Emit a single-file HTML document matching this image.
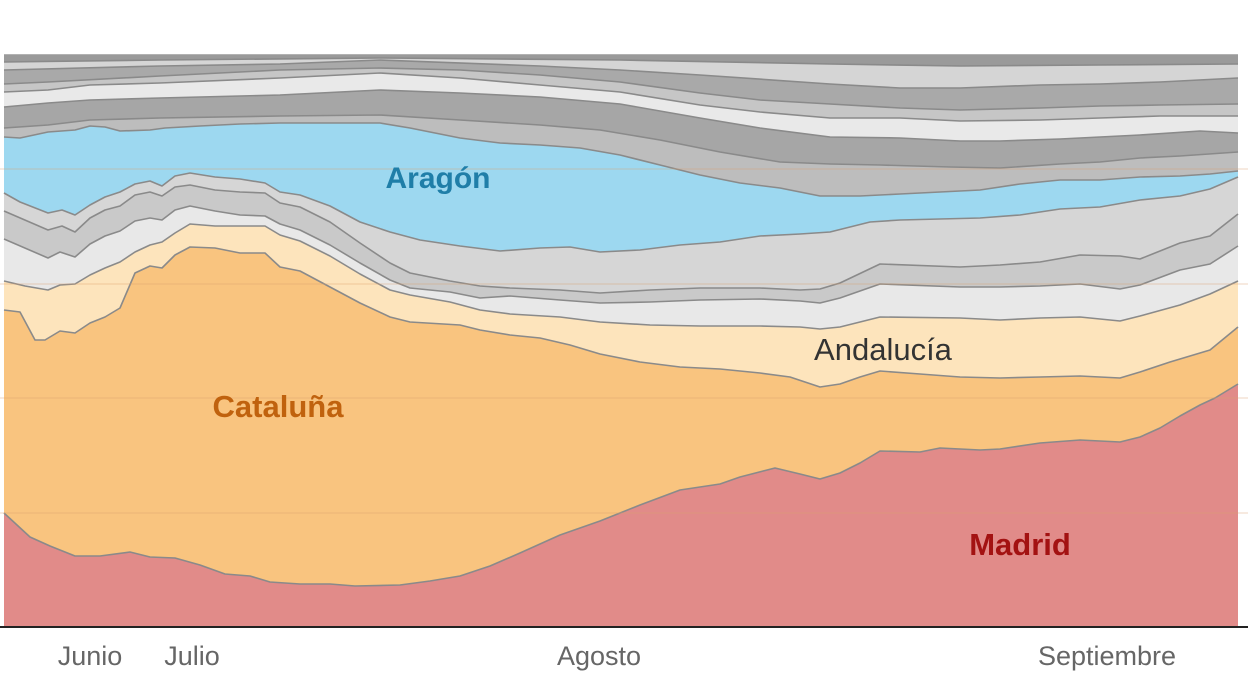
<!DOCTYPE html>
<html><head><meta charset="utf-8">
<style>
html,body{margin:0;padding:0;background:#fff;width:1248px;height:698px;overflow:hidden}
svg{display:block}
text{font-family:"Liberation Sans",sans-serif}
</style></head>
<body>
<svg id="c" width="1248" height="698" viewBox="0 0 1248 698" xmlns="http://www.w3.org/2000/svg">
<g id="areas"></g>
<g id="lines" fill="none" stroke="#8a8a8a" stroke-width="1.6" stroke-linejoin="round"></g>
<g stroke="#d9a070" stroke-opacity="0.35" stroke-width="1.2">
<line x1="0" y1="169" x2="1248" y2="169"/>
<line x1="0" y1="284" x2="1248" y2="284"/>
<line x1="0" y1="398" x2="1248" y2="398"/>
<line x1="0" y1="513" x2="1248" y2="513"/>
</g>
<line x1="0" y1="627" x2="1248" y2="627" stroke="#222" stroke-width="2"/>
<g font-size="27" fill="#666" text-anchor="middle">
<text x="90" y="665">Junio</text>
<text x="192" y="665">Julio</text>
<text x="599" y="665">Agosto</text>
<text x="1107" y="665">Septiembre</text>
</g>
<g text-anchor="middle">
<text x="438" y="188" font-size="30" font-weight="bold" fill="#1f7ea8">Aragón</text>
<text x="278" y="417" font-size="31" font-weight="bold" fill="#c0620e">Cataluña</text>
<text x="883" y="360" font-size="31" fill="#333">Andalucía</text>
<text x="1020" y="555" font-size="31" font-weight="bold" fill="#a31212">Madrid</text>
</g>
</svg>
<script>
var B=[
[[4,513],[30,537],[50,546],[75,556],[100,556],[130,552],[150,557],[175,558],[200,565],[225,574],[250,576],[270,582],[300,584],[330,584],[355,586],[400,585],[430,581],[460,576],[490,566],[520,553],[560,535],[600,521],[640,505],[680,490],[720,484],[740,477],[775,468],[800,474],[820,479],[840,473],[860,463],[880,451],[920,452],[940,448],[980,450],[1000,449],[1040,443],[1080,440],[1120,442],[1140,437],[1160,428],[1180,416],[1200,405],[1215,398],[1238,384]],
[[4,310],[20,312],[35,340],[45,340],[60,331],[75,333],[90,323],[105,317],[120,308],[135,273],[150,266],[162,268],[175,255],[190,247],[215,248],[240,253],[265,253],[280,267],[300,271],[330,287],[360,303],[390,317],[410,322],[460,325],[480,330],[510,335],[540,338],[570,345],[600,354],[640,362],[680,367],[720,369],[760,373],[790,377],[820,387],[840,384],[860,377],[880,371],[920,374],[960,377],[1000,378],[1040,377],[1080,376],[1120,378],[1140,372],[1170,362],[1210,350],[1238,327]],
[[4,281],[25,286],[48,290],[60,285],[75,284],[90,275],[105,268],[120,262],[135,252],[150,245],[162,242],[175,233],[190,224],[215,226],[240,226],[265,226],[280,235],[300,241],[330,256],[360,274],[390,290],[410,295],[450,302],[480,310],[510,314],[560,317],[600,322],[650,325],[700,326],[760,326],[800,327],[820,329],[840,327],[880,317],[960,318],[1000,320],[1040,318],[1080,317],[1120,321],[1140,316],[1180,305],[1210,294],[1238,281]],
[[4,239],[48,258],[60,252],[75,257],[90,244],[105,236],[120,231],[135,221],[150,218],[162,220],[175,210],[190,206],[215,211],[240,215],[265,216],[280,224],[300,230],[330,245],[360,263],[390,280],[410,288],[450,292],[480,298],[510,296],[560,300],[600,303],[650,302],[700,300],[760,299],[800,301],[820,303],[840,298],[880,284],[960,287],[1000,287],[1040,286],[1080,284],[1120,289],[1140,285],[1180,270],[1210,264],[1238,246]],
[[4,211],[48,230],[62,226],[75,232],[90,218],[105,210],[120,206],[135,195],[150,192],[162,196],[175,187],[190,185],[215,190],[240,192],[265,193],[280,203],[300,207],[330,222],[360,243],[390,263],[410,273],[450,281],[480,286],[510,288],[560,290],[600,293],[650,290],[700,288],[760,288],[800,290],[820,289],[840,283],[880,264],[960,267],[1000,265],[1040,262],[1080,255],[1120,256],[1140,259],[1180,243],[1210,236],[1238,214]],
[[4,193],[20,202],[48,213],[62,210],[75,215],[90,205],[105,197],[120,192],[135,184],[150,181],[162,186],[175,176],[190,173],[215,177],[240,179],[265,183],[280,192],[300,195],[330,206],[360,222],[390,232],[420,240],[460,246],[500,251],[540,248],[570,247],[600,252],[640,250],[680,245],[720,242],[760,236],[800,234],[830,232],[870,222],[900,220],[940,219],[980,218],[1020,215],[1060,209],[1100,207],[1140,200],[1180,196],[1210,189],[1238,177]],
[[4,137],[20,138],[48,132],[75,130],[90,126],[105,127],[120,131],[150,130],[165,128],[200,126],[240,124],[280,123],[330,123],[380,123],[410,128],[430,132],[460,138],[500,143],[540,145],[580,148],[620,155],[660,165],[700,175],[740,183],[780,188],[820,196],[860,196],[900,194],[940,192],[980,190],[1020,184],[1060,180],[1100,180],[1140,177],[1180,176],[1210,174],[1238,171]],
[[4,128],[48,125],[90,120],[160,118],[280,116],[380,115],[460,120],[540,125],[600,130],[660,140],[720,152],[780,162],[830,164],[880,165],[950,167],[1000,168],[1060,164],[1100,162],[1140,158],[1180,156],[1238,152]],
[[4,107],[48,103],[90,100],[160,98],[280,95],[380,90],[460,93],[540,97],[620,104],[700,118],[760,128],[830,137],[900,138],[960,141],[1000,141],[1060,139],[1100,137],[1140,135],[1200,131],[1238,133]],
[[4,92],[48,90],[90,85],[160,83],[280,78],[380,73],[460,78],[540,85],[620,92],[700,105],[760,112],[830,118],[900,118],[960,121],[1040,120],[1100,118],[1160,116],[1238,116]],
[[4,84],[48,82],[160,76],[280,70],[380,68],[460,70],[540,75],[620,82],[700,93],[760,100],[830,104],[900,108],[960,110],[1040,108],[1100,106],[1160,105],[1238,104]],
[[4,70],[160,66],[280,64],[380,60],[540,66],[620,70],[700,75],[830,84],[900,88],[960,88],[1040,85],[1100,84],[1160,82],[1238,78]],
[[4,62],[160,60],[380,58],[620,60],[830,64],[960,66],[1100,65],[1238,64]],
[[4,55],[1238,55]]
];
var C=["#e18b89","#f9c47f","#fde4bc","#e8e8e8","#c9c9c9","#d6d6d6","#9dd8f0","#bdbdbd","#a6a6a6","#e9e9e9","#c6c6c6","#a9a9a9","#d5d5d5","#9a9a9a"];
var ns="http://www.w3.org/2000/svg",A=document.getElementById("areas"),L=document.getElementById("lines");
function pts(b){return b.map(function(p){return p[0]+","+p[1]}).join(" ");}
for(var i=B.length-1;i>=0;i--){
  var p=document.createElementNS(ns,"polygon");
  p.setAttribute("points",pts(B[i])+" 1238,627 4,627");
  p.setAttribute("fill",C[i]);
  A.appendChild(p);
}
for(var i=0;i<B.length;i++){
  var l=document.createElementNS(ns,"polyline");
  l.setAttribute("points",pts(B[i]));
  if(i==B.length-1){l.setAttribute("stroke","#999");}
  L.appendChild(l);
}
</script>
</body></html>
